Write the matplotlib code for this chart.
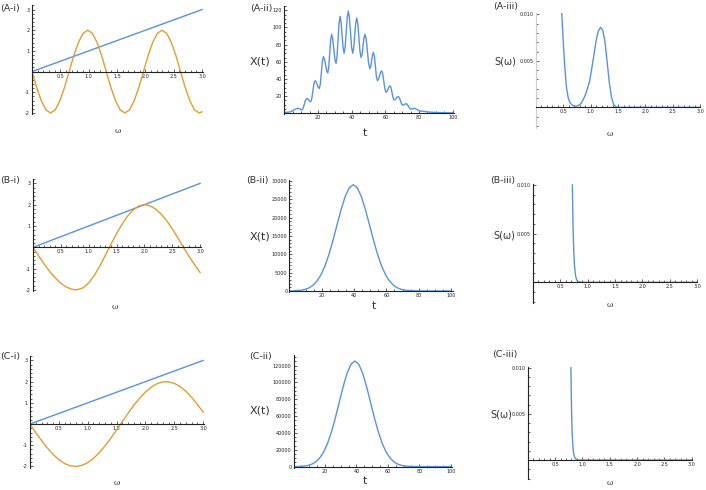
import matplotlib
matplotlib.use("Agg")
import matplotlib.pyplot as plt
from matplotlib.ticker import FixedLocator, MultipleLocator, FormatStrFormatter

W, H = 706, 490
BLUE = "#5a92dc"
ORANGE = "#e39d32"
AXC = "#222222"

# straight line used in the (i) panels
line_w = [0, 3]
line_f = [0, 3]

# (A-i)
a_w = [0, 0.082, 0.164, 0.246, 0.328, 0.41, 0.491, 0.573, 0.655, 0.737, 0.819, 0.901, 0.983,
       1.065, 1.147, 1.229, 1.31, 1.392, 1.474, 1.556, 1.638, 1.72, 1.802, 1.884, 1.966,
       2.048, 2.129, 2.211, 2.293, 2.375, 2.457, 2.539, 2.621, 2.703, 2.785, 2.867, 2.948, 3.0]
a_f = [0, -0.77, -1.41, -1.85, -2, -1.85, -1.41, -0.77, 0, 0.77, 1.41, 1.85, 2, 1.85, 1.41, 0.77,
       0, -0.77, -1.41, -1.85, -2, -1.85, -1.41, -0.77, 0, 0.77, 1.41, 1.85, 2, 1.85, 1.41, 0.77,
       0, -0.77, -1.41, -1.85, -2, -1.94]

# (B-i)
b_w = [0, 0.1, 0.2, 0.3, 0.4, 0.5, 0.6, 0.7, 0.78, 0.9, 1.0, 1.1, 1.2, 1.3, 1.37, 1.4, 1.5, 1.6,
       1.7, 1.8, 1.9, 2.0, 2.1, 2.2, 2.3, 2.4, 2.5, 2.6, 2.7, 2.8, 2.9, 3.0]
b_f = [0, -0.40, -0.78, -1.14, -1.44, -1.69, -1.87, -1.97, -2.0, -1.90, -1.67, -1.32, -0.88,
       -0.37, 0, 0.15, 0.64, 1.09, 1.47, 1.76, 1.94, 2.0, 1.95, 1.80, 1.56, 1.25, 0.87, 0.45, 0,
       -0.42, -0.81, -1.18]

# (C-i)
c_w = [0, 0.1, 0.2, 0.3, 0.4, 0.5, 0.6, 0.7, 0.8, 0.9, 1.0, 1.1, 1.2, 1.3, 1.4, 1.5, 1.6, 1.7,
       1.8, 1.9, 2.0, 2.1, 2.2, 2.3, 2.4, 2.5, 2.6, 2.7, 2.8, 2.9, 3.0]
c_f = [0, -0.40, -0.78, -1.13, -1.43, -1.68, -1.86, -1.97, -2.0, -1.95, -1.82, -1.62, -1.35,
       -1.03, -0.67, -0.28, 0.12, 0.51, 0.89, 1.22, 1.51, 1.74, 1.90, 1.99, 1.99, 1.92, 1.77,
       1.55, 1.26, 0.93, 0.56]

# (A-ii)
a_t = [0, 1.5, 3, 4.5, 6, 7.0, 7.7, 8.3, 8.85, 9.4, 9.95, 10.5, 11.2, 11.9, 12.6, 13.3, 13.9,
       14.5, 15.1, 15.7, 16.33, 16.95, 17.58, 18.2, 18.85, 19.5, 20.15, 20.8, 21.4, 22.0, 22.6,
       23.2, 23.85, 24.5, 25.15, 25.8, 26.38, 26.95, 27.53, 28.1, 28.75, 29.4, 30.05, 30.7,
       31.3, 31.9, 32.5, 33.1, 33.7, 34.3, 34.9, 35.5, 36.13, 36.75, 37.38, 38.0, 38.65, 39.3,
       39.95, 40.6, 41.2, 41.8, 42.4, 43.0, 43.65, 44.3, 44.95, 45.6, 46.18, 46.75, 47.33,
       47.9, 48.63, 49.35, 50.08, 50.8, 51.33, 51.85, 52.38, 52.9, 53.5, 54.1, 54.7, 55.3,
       55.93, 56.55, 57.18, 57.8, 58.45, 59.1, 59.75, 60.4, 61.0, 61.6, 62.2, 62.8, 63.4, 64.0,
       64.6, 65.2, 65.83, 66.45, 67.08, 67.7, 68.35, 69.0, 69.65, 70.3, 70.83, 71.35, 71.88,
       72.4, 73.08, 73.75, 74.43, 75.1, 75.73, 76.35, 76.98, 77.6, 79, 80.5, 83, 86, 90, 95, 100]
a_x = [1.0, 1.2, 1.5, 2.5, 4.2, 5.2, 5.7, 5.8, 5.54, 4.9, 4.26, 4.0, 5.96, 10.7, 15.44, 17.4,
       16.83, 15.45, 14.07, 13.5, 17.08, 25.75, 34.42, 38, 36.69, 33.5, 30.31, 29, 34.4, 47.5,
       60.6, 66, 63.23, 56.5, 49.77, 47, 53.57, 69.5, 85.43, 92, 87.04, 75, 62.96, 58, 66.03,
       85.5, 104.97, 113, 106.72, 91.5, 76.28, 70, 77.15, 94.5, 111.85, 119, 111.85, 94.5,
       77.15, 70, 75.99, 90.5, 105.01, 111, 104.28, 88, 71.72, 65, 68.94, 78.5, 88.06, 92,
       86.16, 72, 57.84, 52, 54.77, 61.5, 68.23, 71, 66.18, 54.5, 42.82, 38, 39.68, 43.75,
       47.82, 49.5, 45.85, 37, 28.15, 24.5, 25.6, 28.25, 30.9, 32, 29.59, 23.75, 17.91, 15.5,
       16.08, 17.5, 18.92, 19.5, 18.04, 14.5, 10.96, 9.5, 9.75, 10.35, 10.95, 11.2, 10.29, 8.1,
       5.91, 5, 5.12, 5.4, 5.68, 5.8, 4.2, 2.8, 2.2, 1.5, 1.0, 0.7, 0.5]

# (B-ii)
b_t = [0, 2, 4.5, 7, 9.5, 12, 14.5, 17, 19.5, 22, 24.5, 27, 29.5, 32, 34.5, 37, 39.5, 42, 44.5,
       47, 49.5, 52, 54.5, 57, 59.5, 62, 64.5, 67, 69.5, 72, 74.5, 77, 79.5, 85, 90, 100]
b_x = [19, 38, 90, 200, 415, 820, 1520, 2660, 4390, 6840, 10030, 13880, 18100, 22240, 25780,
       28160, 29000, 28160, 25780, 22240, 18100, 13880, 10030, 6840, 4390, 2660, 1520, 820, 415,
       200, 90, 38, 17, 3, 0, 0]

# (C-ii)
c_t = [0, 1.5, 4, 6.5, 9, 11.5, 14, 16.5, 19, 21.5, 24, 26.5, 29, 31.5, 34, 36.5, 39, 41.5, 44,
       46.5, 49, 51.5, 54, 56.5, 59, 61.5, 64, 66.5, 69, 71.5, 74, 76.5, 79, 85, 90, 100]
c_x = [63, 110, 276, 640, 1390, 2860, 5510, 9990, 16980, 27150, 40750, 57450, 76120, 94730,
       110750, 121630, 125500, 121630, 110750, 94730, 76120, 57450, 40750, 27150, 16980, 9990,
       5510, 2860, 1390, 640, 276, 110, 55, 5, 0, 0]

# (A-iii)
a_sw = [0.47, 0.48, 0.49, 0.50, 0.52, 0.54, 0.56, 0.59, 0.62, 0.66, 0.70, 0.74, 0.78, 0.82,
        0.86, 0.90, 0.94, 0.98, 1.02, 1.06, 1.10, 1.14, 1.18, 1.22, 1.26, 1.30, 1.34, 1.38,
        1.42, 1.46, 1.50, 3.0]
a_s = [0.0102, 0.0091, 0.0080, 0.0068, 0.0050, 0.0033, 0.0020, 0.0010, 0.0005, 0.00025,
       0.00015, 0.00013, 0.0002, 0.0004, 0.0008, 0.0013, 0.0020, 0.0028, 0.0042, 0.0057,
       0.0072, 0.0082, 0.0086, 0.0083, 0.0071, 0.0049, 0.0027, 0.0011, 0.0003, 0.00005, 0.0, 0.0]

# (B-iii)
b_sw = [0.720, 0.725, 0.730, 0.735, 0.740, 0.745, 0.750, 0.758, 0.766, 0.775, 0.785, 0.80,
        0.82, 0.85, 0.90, 3.0]
b_s = [0.0100, 0.0080, 0.0064, 0.0051, 0.0041, 0.0033, 0.0026, 0.0018, 0.0013, 0.0008,
       0.0005, 0.00025, 0.0001, 0.00003, 0.0, 0.0]

# (C-iii)
c_sw = [0.790, 0.795, 0.800, 0.805, 0.810, 0.815, 0.822, 0.830, 0.840, 0.852, 0.866, 0.885,
        0.91, 0.95, 3.0]
c_s = [0.0100, 0.0077, 0.0059, 0.0046, 0.0035, 0.0027, 0.0019, 0.0012, 0.0007, 0.0004,
       0.0002, 0.0001, 0.00003, 0.0, 0.0]

w_ticks = [0.5, 1.0, 1.5, 2.0, 2.5, 3.0]
f_ticks = [-2, -1, 1, 2, 3]
t_ticks = [20, 40, 60, 80, 100]
s_ticks = [0.005, 0.010]

fig = plt.figure(figsize=(W / 100, H / 100), dpi=100)


def panel(box, xlim, ylim):
    # box is (left, top, right, bottom) in pixels
    l, t, r, b = box
    ax = fig.add_axes([l / W, 1 - b / H, (r - l) / W, (b - t) / H])
    ax.set_xlim(*xlim)
    ax.set_ylim(*ylim)
    ax.patch.set_visible(False)
    ax.spines["top"].set_visible(False)
    ax.spines["right"].set_visible(False)
    ax.spines["bottom"].set_position(("data", 0))
    ax.spines["left"].set_position(("data", 0))
    for s in ("bottom", "left"):
        ax.spines[s].set_linewidth(0.8)
        ax.spines[s].set_color(AXC)
    ax.tick_params(which="both", direction="in", width=0.5, colors=AXC,
                   labelsize=3.5, pad=1.5)
    ax.tick_params(which="major", length=2.2)
    ax.tick_params(which="minor", length=1.2)
    return ax


def txt(x, y, s, size, ha="left", **kw):
    fig.text(x / W, 1 - y / H, s, fontsize=size, ha=ha, va="center", color="#333333", **kw)


def omega_panel(ax):
    ax.xaxis.set_major_locator(FixedLocator(w_ticks))
    ax.xaxis.set_minor_locator(MultipleLocator(0.1))
    ax.xaxis.set_major_formatter(FormatStrFormatter("%.1f"))


# ---- column (i)
for box, w, f in [((32, 5.4, 203.2, 114.0), a_w, a_f),
                  ((33, 179.1, 201.2, 291.0), b_w, b_f),
                  ((30, 356.2, 204.3, 467.5), c_w, c_f)]:
    ax = panel(box, (0, 3.02), (-2.05, 3.2))
    ax.plot(line_w, line_f, color=BLUE, lw=1.0)
    ax.plot(w, f, color=ORANGE, lw=1.0)
    omega_panel(ax)
    ax.yaxis.set_major_locator(FixedLocator(f_ticks))
    ax.yaxis.set_minor_locator(MultipleLocator(0.2))
    ax.yaxis.set_major_formatter(FormatStrFormatter("%d"))

# ---- column (ii)
for box, ylim, t, x, yt, ym in [
        ((284.3, 6.0, 454.4, 114.2), (-1, 125), a_t, a_x, [20, 40, 60, 80, 100, 120], 5),
        ((289.4, 179.9, 452.7, 292.1), (-300, 30300), b_t, b_x,
         [0, 5000, 10000, 15000, 20000, 25000, 30000], 1000),
        ((293.6, 354.7, 452.3, 467.5), (-1000, 133000), c_t, c_x,
         [0, 20000, 40000, 60000, 80000, 100000, 120000], 5000)]:
    ax = panel(box, (0, 101), ylim)
    ax.plot(t, x, color=BLUE, lw=1.0)
    ax.xaxis.set_major_locator(FixedLocator(t_ticks))
    ax.xaxis.set_minor_locator(MultipleLocator(5))
    ax.yaxis.set_major_locator(FixedLocator(yt))
    ax.yaxis.set_minor_locator(MultipleLocator(ym))

# ---- column (iii)
for box, ylim, w, s in [((536, 13.4, 700.1, 127.8), (-0.0022, 0.0101), a_sw, a_s),
                        ((533, 183.9, 697.1, 302.8), (-0.0021, 0.0101), b_sw, b_s),
                        ((527.7, 366.8, 691.8, 478.5), (-0.002, 0.0101), c_sw, c_s)]:
    ax = panel(box, (0, 3.0), ylim)
    ax.plot(w, s, color=BLUE, lw=1.0)
    omega_panel(ax)
    ax.yaxis.set_major_locator(FixedLocator(s_ticks))
    ax.yaxis.set_minor_locator(MultipleLocator(0.001))
    ax.yaxis.set_major_formatter(FormatStrFormatter("%.3f"))
    if box[0] == 536:
        ax.spines["left"].set_color("#cccccc")

# ---- panel tags and axis labels
tag = 6.8
txt(0, 8, "(A-i)", tag)
txt(250, 8, "(A-ii)", tag)
txt(493, 7, "(A-iii)", tag)
txt(0, 180, "(B-i)", tag)
txt(246, 180, "(B-ii)", tag)
txt(490, 181, "(B-iii)", tag)
txt(0, 356, "(C-i)", tag)
txt(249, 356, "(C-ii)", tag)
txt(492, 354, "(C-iii)", tag)

for y in (62, 236, 410):
    txt(250, y, "X(t)", 8)
for x, y in ((494, 62), (493, 235), (490, 414)):
    txt(x, y, "S(ω)", 7)
for x, y in ((365, 133), (374, 306), (365, 481)):
    txt(x, y, "t", 8, ha="center")
for x, y in ((118, 131), (115, 307), (117, 483), (610, 134), (610, 305), (610, 483)):
    txt(x, y, "ω", 5.5, ha="center", family="DejaVu Serif")

fig.savefig("out.png", dpi=100)
